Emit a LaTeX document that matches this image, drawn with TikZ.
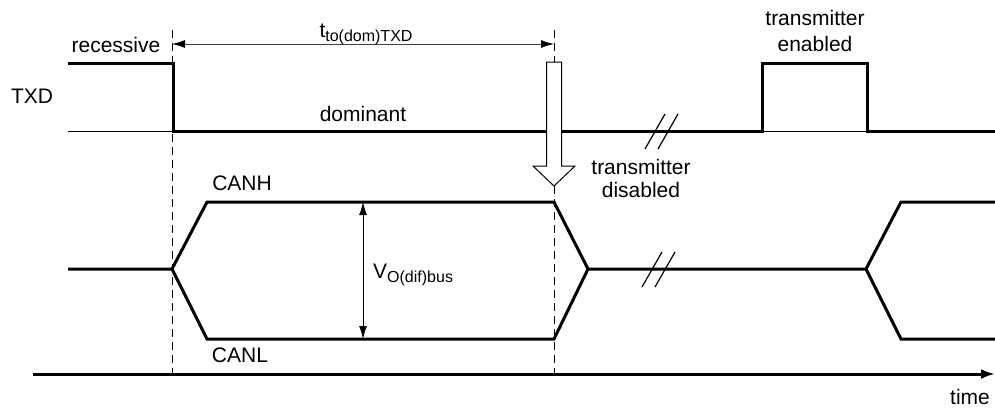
\documentclass[tikz,border=0pt]{standalone}
\usepackage{fontspec}
\setmainfont{Liberation Sans}
\usetikzlibrary{arrows.meta}
\begin{document}
\begin{tikzpicture}[x=1pt,y=-1pt,
  sig/.style={line width=3pt,line join=miter,line cap=butt},
  thinsig/.style={line width=1pt},
  dashline/.style={line width=0.9pt,dash pattern=on 8pt off 5pt},
  dim/.style={line width=1pt,draw=black!75,{Latex[length=13pt,width=8pt,black]}-{Latex[length=13pt,width=8pt,black]}},
  lbl/.style={font=\fontsize{21}{25}\selectfont,inner sep=0pt,anchor=base},
  brk/.style={line width=1.2pt}]
\useasboundingbox (0,0) rectangle (995,407);
% coordinates
\coordinate (t0) at (68,63);
\coordinate (t1) at (173,63);
\coordinate (t2) at (173,131);
\coordinate (l0) at (68,131);
\coordinate (t3) at (762,131);
\coordinate (t4) at (762,63);
\coordinate (t5) at (867,63);
\coordinate (t6) at (867,131);
\coordinate (t7) at (995,131);
% dashed markers
\coordinate (d1a) at (172,30);
\coordinate (d1b) at (172,378);
\coordinate (d2a) at (554,30);
\coordinate (d2b) at (554,378);
\draw[dashline] (d1a) -- (d1b);
\draw[dashline] (d2a) -- (d2b);
% TXD waveform
\draw[thinsig] (l0) -- (t2);
\draw[thinsig] (t3) -- (t6);
\draw[sig] (t0) -- (t1) -- (t2) -- (t3) -- (t4) -- (t5) -- (t6) -- (t7);
% TXD break marks
\coordinate (b1a) at (645,149); \coordinate (b1b) at (665,114);
\coordinate (b2a) at (658,149); \coordinate (b2b) at (678,114);
\draw[brk] (b1a) -- (b1b);
\draw[brk] (b2a) -- (b2b);
% hollow arrow
\draw[line width=1pt,fill=white] (546.5,62) -- (561.5,62) -- (561.5,166) -- (575,166) -- (554,186) -- (533,166) -- (546.5,166) -- cycle;
% dimension arrow
\coordinate (da) at (172,44);
\coordinate (db) at (554,44);
\draw[dim] (da) -- (db);
% CAN waveform
\coordinate (c0) at (68,269);
\coordinate (c1) at (172,269);
\coordinate (h1) at (207,202);
\coordinate (h2) at (554,202);
\coordinate (lo1) at (207,339);
\coordinate (lo2) at (554,339);
\coordinate (c2) at (588,269);
\coordinate (c3) at (866,269);
\coordinate (h3) at (901,202);
\coordinate (h4) at (995,202);
\coordinate (lo3) at (901,339);
\coordinate (lo4) at (995,339);
\draw[sig] (c0) -- (c1) -- (h1) -- (h2) -- (c2) -- (c3) -- (h3) -- (h4);
\draw[sig] (c1) -- (lo1) -- (lo2) -- (c2);
\draw[sig] (c3) -- (lo3) -- (lo4);
% CAN break marks
\coordinate (b3a) at (642,287); \coordinate (b3b) at (662,252);
\coordinate (b4a) at (655,287); \coordinate (b4b) at (675,252);
\draw[brk] (b3a) -- (b3b);
\draw[brk] (b4a) -- (b4b);
% V arrow
\coordinate (va) at (363,202);
\coordinate (vb) at (363,339);
\draw[line width=1pt,{Latex[length=13pt,width=8pt]}-{Latex[length=13pt,width=8pt]}] (va) -- (vb);
% time axis
\coordinate (ax0) at (33,374);
\coordinate (ax1) at (995,374);
\draw[line width=3pt,-{Latex[length=14pt,width=10pt]}] (ax0) -- (ax1);
% labels
\node[lbl] (rec) at (116,52) {recessive};
\node[lbl] (txd) at (32,103) {TXD};
\node[lbl] (dom) at (363,121) {dominant};
\node[lbl] (tto) at (366,37) {t\raisebox{-4pt}{\fontsize{16}{16}\selectfont to(dom)TXD}};
\node[lbl] (en1) at (815,25) {transmitter};
\node[lbl] (en2) at (815,51) {enabled};
\node[lbl] (di1) at (641,174) {transmitter};
\node[lbl] (di2) at (641,197) {disabled};
\node[lbl] (canh) at (242,190) {CANH};
\node[lbl] (canl) at (240,362) {CANL};
\node[lbl,anchor=base west] (vod) at (373,278) {V\raisebox{-4pt}{\fontsize{16}{16}\selectfont O(dif)bus}};
\node[lbl] (time) at (970,404) {time};
\end{tikzpicture}
\end{document}
